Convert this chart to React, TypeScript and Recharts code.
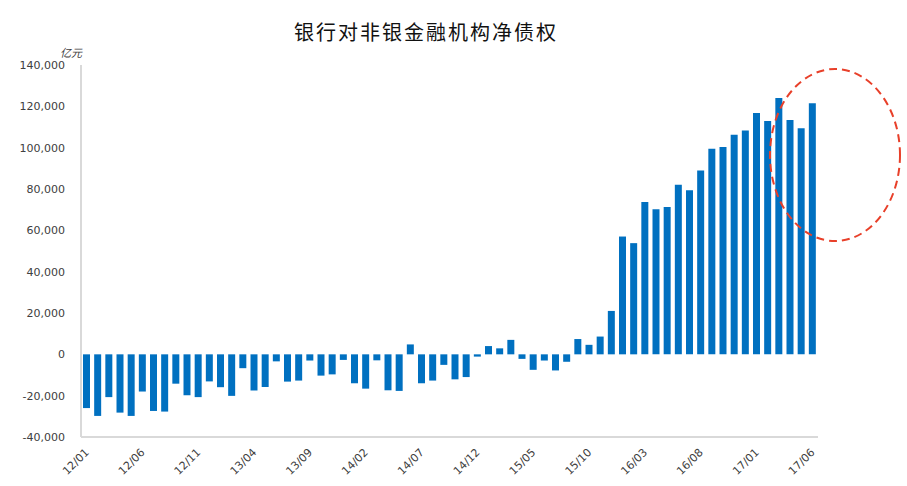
import { Bar, BarChart, Cell, XAxis, YAxis } from "recharts";

// monthly labels 12/01 .. 17/06
const years = ["12", "13", "14", "15", "16", "17"];
const months = ["01", "02", "03", "04", "05", "06", "07", "08", "09", "10", "11", "12"];
const categories: string[] = years
  .flatMap((y) => months.map((m) => `${y}/${m}`))
  .slice(0, 66);

// 银行对非银金融机构净债权 (亿元)
const netClaims = [
  -26000, -29800, -20700, -28200, -29800, -18000, -27400, -27700, -14200, -19800,
  -20700, -13100, -15900, -20100, -6700, -17500, -15800, -3400, -13200, -12700,
  -3000, -10300, -9700, -2700, -14000, -16600, -2900, -17400, -17700, 4800,
  -14000, -12700, -5100, -12100, -11000, -1100, 4000, 2900, 7000, -2200,
  -7500, -3000, -7800, -3600, 7400, 4600, 8600, 21000, 57000, 53800,
  73700, 70200, 71300, 82000, 79400, 89000, 99500, 100300, 106200, 108300,
  116800, 112900, 124000, 113400, 109400, 121500,
];

const yTicks = [-40000, -20000, 0, 20000, 40000, 60000, 80000, 100000, 120000, 140000];

const data = categories.map((month, i) => ({ month, value: netClaims[i] }));

const BAR_COLOR = "#0070C0";
const AXIS_COLOR = "#d9d9d9";
const TEXT_COLOR = "#404040";

function XTick(props: any) {
  const { x, y, payload } = props;
  return (
    <g transform={`translate(${x + 3},${y + 8})`}>
      <text
        x={0}
        y={0}
        textAnchor="end"
        transform="rotate(-45)"
        fontSize={11}
        fill={TEXT_COLOR}
        fontFamily="DejaVu Sans, sans-serif"
      >
        {payload.value}
      </text>
    </g>
  );
}

export default function App() {
  return (
    <div
      style={{
        position: "absolute",
        left: 0,
        top: 0,
        width: 907,
        height: 486,
        background: "#ffffff",
      }}
    >
      <div
        style={{
          position: "absolute",
          left: 0,
          top: 17,
          width: 852,
          textAlign: "center",
          fontFamily: "'Noto Sans CJK SC', sans-serif",
          fontSize: 20,
          letterSpacing: 2,
          color: "#111",
        }}
      >
        银行对非银金融机构净债权
      </div>
      <div
        style={{
          position: "absolute",
          left: 60,
          top: 44,
          fontFamily: "'Noto Sans CJK SC', sans-serif",
          fontSize: 11,
          fontStyle: "italic",
          color: TEXT_COLOR,
        }}
      >
        亿元
      </div>
      <BarChart
        width={907}
        height={486}
        data={data}
        margin={{ top: 65, right: 89, bottom: 0, left: 0 }}
        barSize={7}
      >
        <XAxis
          dataKey="month"
          interval={4}
          tickLine={false}
          axisLine={{ stroke: AXIS_COLOR, strokeWidth: 2 }}
          tick={<XTick />}
          height={49}
        />
        <YAxis
          width={81}
          domain={[-40000, 140000]}
          ticks={yTicks}
          tickLine={false}
          axisLine={{ stroke: AXIS_COLOR, strokeWidth: 2 }}
          tickFormatter={(v: number) => v.toLocaleString("en-US")}
          tick={{ fontSize: 11, fill: TEXT_COLOR, fontFamily: "DejaVu Sans, sans-serif" }}
          tickMargin={10}
        />
        <Bar dataKey="value" isAnimationActive={false}>
          {data.map((row) => (
            <Cell key={row.month} fill={BAR_COLOR} />
          ))}
        </Bar>
      </BarChart>
      <svg
        width={907}
        height={486}
        style={{ position: "absolute", left: 0, top: 0, pointerEvents: "none" }}
      >
        <ellipse
          cx={835}
          cy={155}
          rx={65}
          ry={86}
          fill="none"
          stroke="#E8402A"
          strokeWidth={2}
          strokeDasharray="8 5"
        />
      </svg>
    </div>
  );
}
